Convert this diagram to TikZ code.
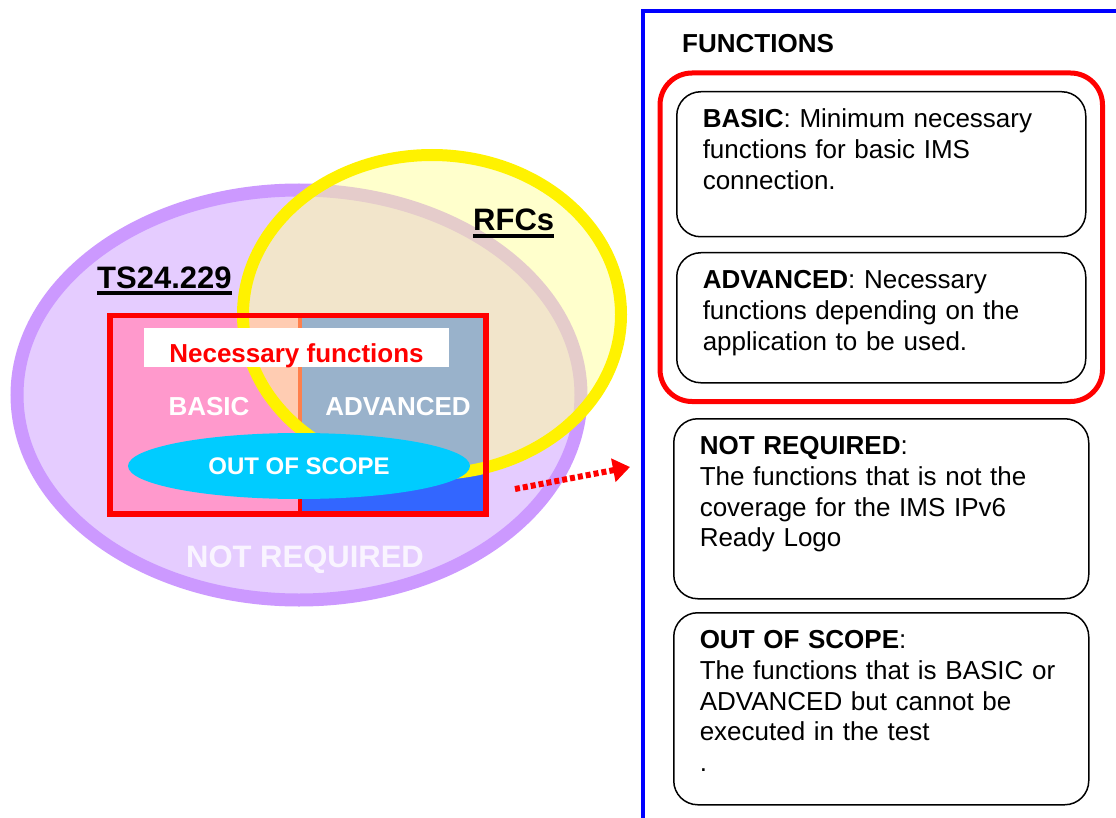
\documentclass[tikz,border=0pt]{standalone}
\usepackage{fontspec}
\setmainfont{Liberation Sans}
\usepackage{xcolor}
\usepackage{tikz}
\usetikzlibrary{arrows.meta}
\usetikzlibrary{positioning}
\usetikzlibrary{fit}
\definecolor{lilac}{HTML}{E5CCFF}
\definecolor{lilacedge}{HTML}{CC99FF}
\definecolor{basicpink}{HTML}{FF99CC}
\definecolor{advblue}{HTML}{3366FF}
\definecolor{scopecyan}{HTML}{00CCFF}
\definecolor{rfcyellow}{HTML}{FFFF99}
\tikzset{>=latex}
\tikzstyle{biglabel} = [font = \fontsize{31}{36}\selectfont\bfseries]
\tikzstyle{midlabel} = [font = \fontsize{26}{31}\selectfont\bfseries]
\tikzstyle{fnbox} = [draw = black, line width = 1.5pt, rounded corners = 24pt, anchor = north west, align = left, inner xsep = 26pt, inner ysep = 16pt, text height = 20pt, font = \fontsize{26}{30.7}\selectfont]

\begin{document}
\begin{tikzpicture}[x = 1pt, y = -1pt]
\useasboundingbox (0, 0) rectangle (1116, 818);
\filldraw [fill = lilac, draw = lilacedge, line width = 13pt] (299, 395) ellipse [x radius = 282, y radius = 205];
\fill [basicpink] (110, 315.5) rectangle (299.5, 514);
\fill [advblue] (299.5, 315.5) rectangle (486, 514);
\draw [red, line width = 4pt] (299.5, 315.5) -- (299.5, 514);
\fill [rfcyellow, fill opacity = .5] (432, 314.5) ellipse [x radius = 189, y radius = 159.5];
\draw [yellow, line width = 12pt] (432, 314.5) ellipse [x radius = 189, y radius = 159.5];
\fill [scopecyan] (299, 466) ellipse [x radius = 171, y radius = 33];
\draw [red, line width = 5.5pt] (110, 315.5) rectangle (486, 514);
\node [midlabel, fill = white, text = red, inner sep = 0, text height = 34.7pt, text depth = 4.3pt, minimum width = 305pt, anchor = base] (necessary) at (296.5, 362.7) {Necessary functions};
\node [midlabel, text = white] (basic) at (209, 407) {BASIC};
\node [midlabel, text = white] (advanced) at (398, 407) {ADVANCED};
\node [font = \fontsize{24}{28}\selectfont\bfseries, text = white] (outscope) at (299, 466) {OUT OF SCOPE};
\node [biglabel, text = white, text opacity = .8] (notreq) at (305, 560) {NOT REQUIRED};
\node [biglabel, anchor = base west, inner sep = 0] (ts) at (97, 288) {TS24.229};
\draw [line width = 3.5pt] ([yshift = -5pt]ts.base west) -- ([yshift = -5pt]ts.base east);
\node [biglabel, anchor = base west, inner sep = 0] (rfc) at (473, 231) {RFCs};
\draw [line width = 3.5pt] ([yshift = -5pt]rfc.base west) -- ([yshift = -5pt]rfc.base east);

\draw [blue, line width = 4pt] (642.5, 818) -- (642.5, 11) -- (1116, 11);
\node [midlabel, anchor = base west, inner sep = 0] (functions) at (682, 53) {FUNCTIONS};
\node [fnbox, text width = 357pt, text depth = 93pt] (basicbox) at (676, 91) {\textbf{BASIC}: Minimum necessary\\functions for basic IMS\\connection.};
\node [fnbox, text width = 357pt, text depth = 78pt, below = 14.5pt of basicbox] (advbox) {\textbf{ADVANCED}: Necessary\\functions depending on the\\application to be used.};
\node [draw = red, line width = 5pt, rounded corners = 32pt, inner xsep = 16pt, inner ysep = 18pt, fit = (basicbox) (advbox)] (needframe) {};
\node [fnbox, text width = 363pt, text depth = 128pt, below = 14pt of needframe] (notbox) {\textbf{NOT REQUIRED}:\\The functions that is not the\\coverage for the IMS IPv6\\Ready Logo};
\node [fnbox, text width = 363pt, text depth = 140pt, below = 12.5pt of notbox] (scopebox) {\textbf{OUT OF SCOPE}:\\The functions that is BASIC or\\ADVANCED but cannot be\\executed in the test\\.};

\coordinate (arrowfrom) at (515, 489);
\coordinate (arrowto) at (630, 467);
\draw [red, line width = 6pt, dash pattern = on 5pt off 3pt, -{Triangle[length = 17pt, width = 23pt]}] (arrowfrom) -- (arrowto);
\end{tikzpicture}
\end{document}
